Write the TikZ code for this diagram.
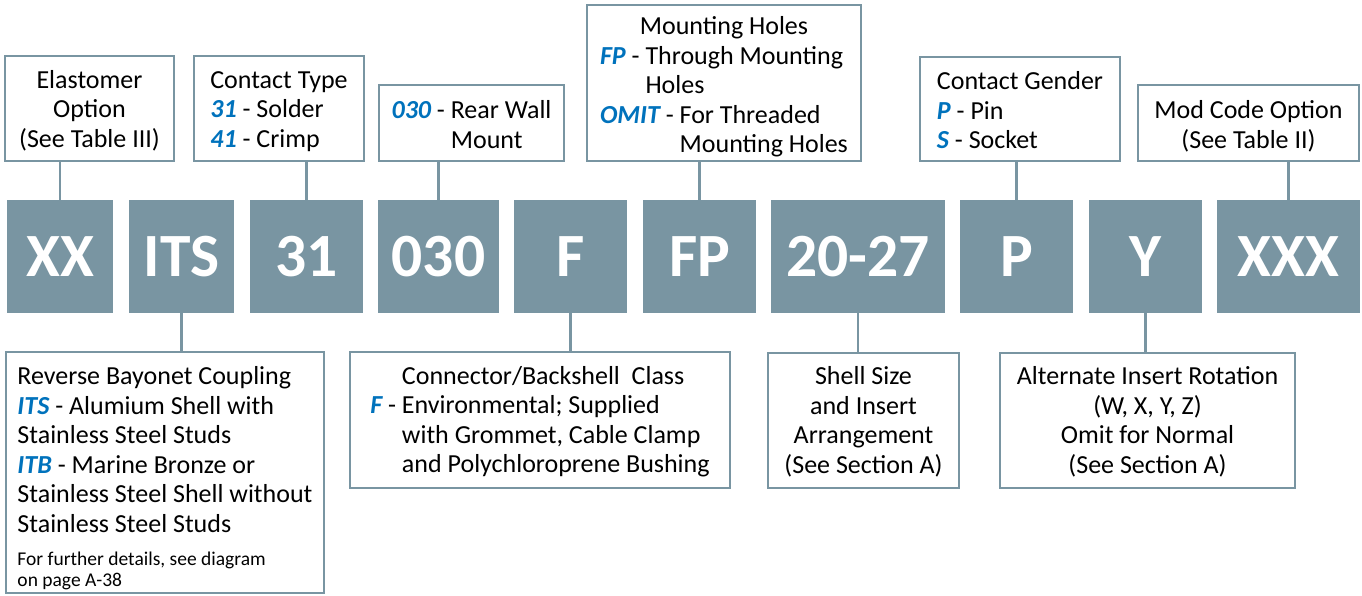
\documentclass[tikz,border=0pt]{standalone}
\usepackage{fontspec}
\setmainfont{Carlito}
\usetikzlibrary{calc}
\definecolor{codegray}{RGB}{121,149,162}
\definecolor{codeblue}{RGB}{0,114,188}
\newcommand{\keyopt}[1]{\textcolor{codeblue}{\bfseries\itshape #1}}
\newcommand{\notefont}{\fontsize{11.1}{12}\selectfont}
% #1 drop (pt), #2 column type, #3 lines
\newcommand{\infotext}[3]{\raisebox{-#1pt}[\height][\depth]{\begin{tabular}{@{}#2@{}}#3\end{tabular}}}
\tikzset{
	wpx/.style={minimum width=#1*0.02cm},
	hpx/.style={minimum height=#1*0.02cm},
	codebox/.style={fill=codegray, text=white, inner sep=0pt, hpx=113,
		font=\fontsize{35}{40}\selectfont\bfseries},
	infobox/.style={draw=codegray, line width=1.5pt, inner sep=0pt,
		font=\fontsize{14.8}{16.8}\selectfont},
	link/.style={draw=codegray, line width=1.5pt}
}

\begin{document}
\begin{tikzpicture}[x=0.02cm,y=-0.02cm]
		%\draw[help lines] (0,0) grid (1362,595);
		\useasboundingbox (0,0) rectangle (1362,595);
		
		% code row
		\node[codebox, wpx=106] (cXX) at (60,256.5) {XX};
		\node[codebox, wpx=105] (cITS) at (181.5,256.5) {ITS};
		\node[codebox, wpx=113] (cType) at (306.5,256.5) {31};
		\node[codebox, wpx=121] (cWall) at (438.5,256.5) {030};
		\node[codebox, wpx=113] (cClass) at (570.5,256.5) {F};
		\node[codebox, wpx=113] (cHoles) at (699.5,256.5) {FP};
		\node[codebox, wpx=174] (cSize) at (858,256.5) {20-27};
		\node[codebox, wpx=113] (cGender) at (1016.5,256.5) {P};
		\node[codebox, wpx=113] (cRot) at (1145.5,256.5) {Y};
		\node[codebox, wpx=143] (cMod) at (1288.5,256.5) {XXX};
		
		% upper boxes
		\node[infobox, wpx=169, hpx=105] (tElast) at (89.5,108.5)
			{\infotext{1.8}{c}{Elastomer\\Option\\(See Table III)}};
		\node[infobox, wpx=170, hpx=105] (tType) at (279,108.5)
			{\infotext{2}{l}{Contact Type\\\keyopt{31} - Solder\\\keyopt{41} - Crimp}};
		\node[infobox, wpx=185, hpx=76] (tWall) at (471.5,123)
			{\infotext{2.5}{l}{\keyopt{030} - Rear Wall\\\hphantom{\keyopt{030} - }Mount}};
		\node[infobox, wpx=274, hpx=156] (tHoles) at (724,83)
			{\infotext{2.8}{l}{\multicolumn{1}{@{}c@{}}{Mounting Holes}\\
				\keyopt{FP} - Through Mounting\\
				\hphantom{\keyopt{FP} - }Holes\\
				\keyopt{OMIT} - For Threaded\\
				\hphantom{\keyopt{OMIT} - }Mounting Holes}};
		\node[infobox, wpx=200, hpx=104] (tGender) at (1020,109)
			{\infotext{2.5}{l}{Contact Gender\\\keyopt{P} - Pin\\\keyopt{S} - Socket}};
		\node[infobox, wpx=221, hpx=76] (tMod) at (1248.5,123)
			{\infotext{2.5}{c}{Mod Code Option\\(See Table II)}};
		
		% lower boxes
		\node[infobox, wpx=318, hpx=241] (bCoupling) at (165,472.5)
			{\infotext{3.4}{l}{Reverse Bayonet Coupling\\
				\keyopt{ITS} - Alumium Shell with\\
				Stainless Steel Studs\\
				\keyopt{ITB} - Marine Bronze or\\
				Stainless Steel Shell without\\
				Stainless Steel Studs\\[2pt]
				\notefont\begin{tabular}[t]{@{}l@{}}For further details, see diagram\\on page A-38\end{tabular}}};
		\node[infobox, wpx=380, hpx=136] (bClass) at (540,420)
			{\infotext{1.5}{l}{\hphantom{\keyopt{F} - }Connector/Backshell\ \ Class\\
				\keyopt{F} - Environmental; Supplied\\
				\hphantom{\keyopt{F} - }with Grommet, Cable Clamp\\
				\hphantom{\keyopt{F} - }and Polychloroprene Bushing}};
		\node[infobox, wpx=191, hpx=135] (bSize) at (863.5,420.5)
			{\infotext{1.4}{c}{Shell Size\\and Insert\\Arrangement\\(See Section A)}};
		\node[infobox, wpx=295, hpx=135] (bRot) at (1147.5,420.5)
			{\infotext{1.4}{c}{Alternate Insert Rotation\\(W, X, Y, Z)\\Omit for Normal\\(See Section A)}};
		
		% connectors
		\draw[link] (cXX.north) -- (cXX.north |- tElast.south);
		\draw[link] (cType.north) -- (cType.north |- tType.south);
		\draw[link] (cWall.north) -- (cWall.north |- tWall.south);
		\draw[link] (cHoles.north) -- (cHoles.north |- tHoles.south);
		\draw[link] (cGender.north) -- (cGender.north |- tGender.south);
		\draw[link] (cMod.north) -- (cMod.north |- tMod.south);
		\draw[link] (cITS.south) -- (cITS.south |- bCoupling.north);
		\draw[link] (cClass.south) -- (cClass.south |- bClass.north);
		\draw[link] (cSize.south) -- (cSize.south |- bSize.north);
		\draw[link] (cRot.south) -- (cRot.south |- bRot.north);
\end{tikzpicture}
\end{document}
